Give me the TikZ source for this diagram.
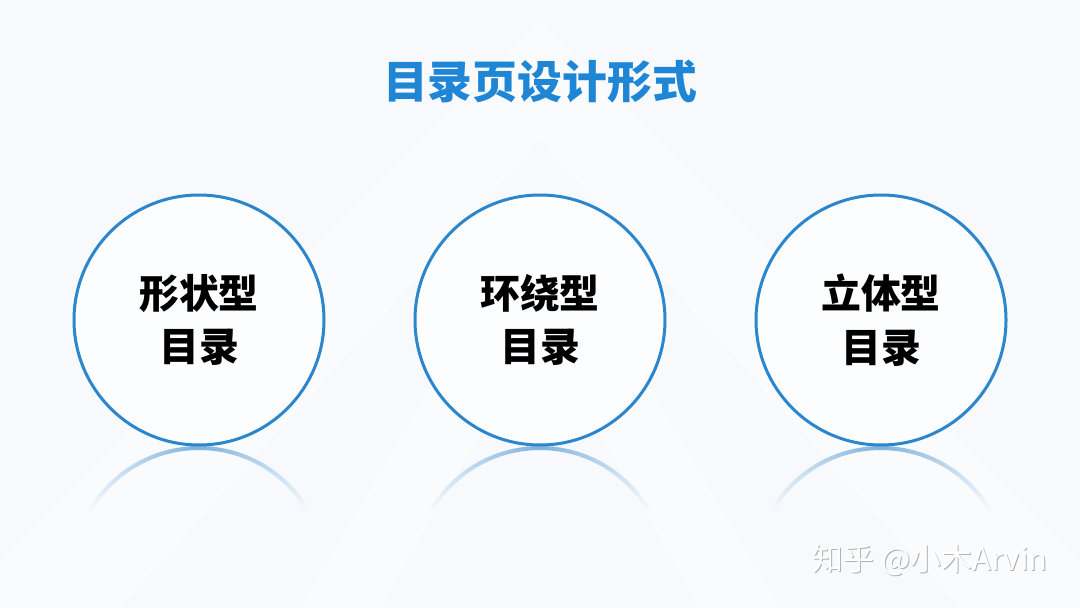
\documentclass[tikz,border=0pt]{standalone}
\usepackage{fontspec}
\newfontfamily\cjk{Noto Sans CJK SC}
\definecolor{titleblue}{HTML}{1F86D6}
\definecolor{ringblue}{HTML}{2B86CC}
\definecolor{bgpaper}{HTML}{F7F9FC}
\tikzset{
  ring/.style={circle,draw=ringblue,line width=3bp,fill=white!60!bgpaper,
    minimum size=250bp,inner sep=0pt,align=center,
    font=\cjk\bfseries\fontsize{40}{54}\selectfont},
  glow/.style={line width=4bp,line cap=butt}
}
\begin{document}
\begin{tikzpicture}[x=1bp,y=-1bp]
      \useasboundingbox (0,0) rectangle (1080,608);
      \fill[bgpaper] (0,0) rectangle (1080,608);
      % faint light rays behind
      \fill[white,opacity=0.45] (540,20) -- (0,560) -- (0,608) -- (120,608) -- (540,140) -- (960,608) -- (1080,608) -- (1080,560) -- cycle;
      \fill[white,opacity=0.35] (540,200) -- (300,608) -- (380,608) -- (540,330) -- (700,608) -- (780,608) -- cycle;
      \path (540,82) node[text=titleblue,font=\cjk\bfseries\fontsize{45}{52}\selectfont] (title) {目录页设计形式};
      % reflections
      \foreach \cx in {199,540,881}{
        \foreach \a in {210,212,...,328}{
          \pgfmathtruncatemacro{\pc}{60*(1-abs(\a+1-270)/61)}
          \draw[glow,draw=ringblue!\pc!bgpaper] (\cx,574) ++(\a:126) arc[start angle=\a,end angle=\a+2.3,radius=126];
        }
      }
      \node[ring] (shape) at (199,320) {形状型\\目录};
      \node[ring] (loop) at (540,320) {环绕型\\目录};
      \node[ring] (solid) at (881,320) {立体型\\目录};
      % watermark
      \path (931,561) node[text=black!30,font=\cjk\fontsize{31}{34}\selectfont] (mark) {知乎 @小木Arvin};
      \path (930,560) node[text=white,font=\cjk\fontsize{31}{34}\selectfont] (markfront) {知乎 @小木Arvin};
\end{tikzpicture}
\end{document}
